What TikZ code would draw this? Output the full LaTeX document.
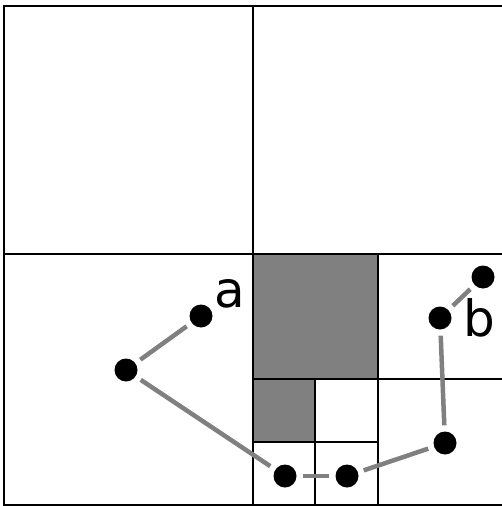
\documentclass[tikz,border=0pt]{standalone}
\usepackage{fontspec}
\setmainfont{DejaVu Sans}
\definecolor{cellgray}{gray}{0.5}
\begin{document}
\begin{tikzpicture}[x=1pt,y=-1pt,
  cell/.style={draw=black,line width=1.6pt},
  filledcell/.style={fill=cellgray},
  pt/.style={circle,fill=black,inner sep=0pt,minimum size=23pt},
  link/.style={draw=cellgray,line width=4.5pt,shorten <=6pt,shorten >=6pt},
  lbl/.style={font=\fontsize{50}{54}\selectfont,inner sep=0pt}]
\useasboundingbox (0,0) rectangle (502,506);
\fill[white] (0,0) rectangle (502,506);
% shaded cells
\path[filledcell] (253,254) rectangle (378,379);
\path[filledcell] (253,379) rectangle (315,442);
% grid
\draw[cell] (4,6) rectangle (503,505);
\draw[cell] (253,6) -- (253,505);
\draw[cell] (4,254) -- (503,254);
\draw[cell] (378,254) -- (378,505);
\draw[cell] (253,379) -- (503,379);
\draw[cell] (315,379) -- (315,505);
\draw[cell] (253,442) -- (378,442);
% points
\node[pt] (pa) at (201,316) {};
\node[pt] (pl) at (126,370) {};
\node[pt] (p1) at (285,476) {};
\node[pt] (p2) at (347,476) {};
\node[pt] (p3) at (445,443) {};
\node[pt] (pb) at (440,318) {};
\node[pt] (pt) at (483,277) {};
% links
\draw[link] (pl) -- (pa);
\draw[link] (pl) -- (p1);
\draw[link] (p1) -- (p2);
\draw[link] (p2) -- (p3);
\draw[link] (p3) -- (pb);
\draw[link] (pb) -- (pt);
% labels
\node[lbl] (la) at (230,294) {a};
\node[lbl] (lb) at (479,318) {b};
\end{tikzpicture}
\end{document}
